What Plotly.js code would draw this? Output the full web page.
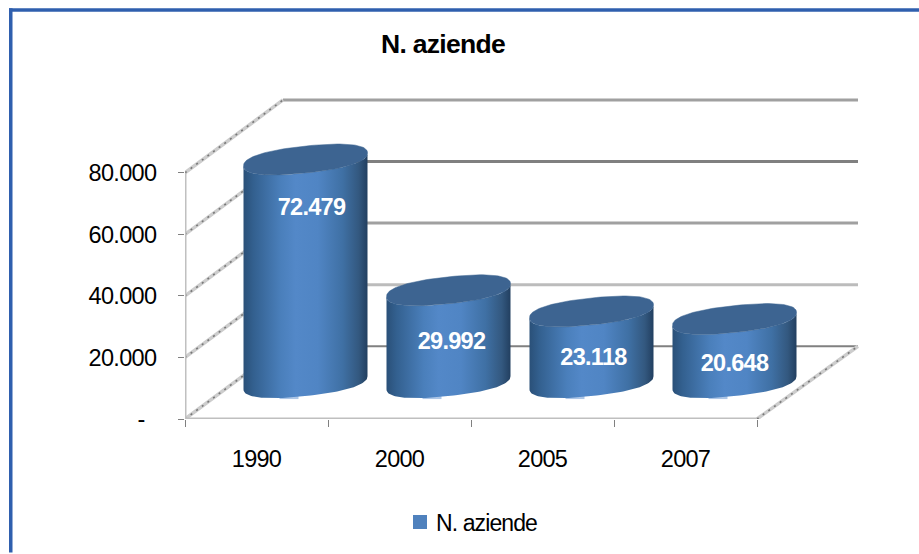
<!DOCTYPE html>
<html><head><meta charset="utf-8">
<script src="https://cdn.plot.ly/plotly-3.0.1.min.js"></script>
<style>html,body{margin:0;padding:0;background:#fff}#chart{width:919px;height:554px}
#chart text{letter-spacing:-0.7px}
#chart .legendtext{letter-spacing:-0.9px;transform:translateX(-4px)}
</style>
</head><body><div id="chart"></div>
<script>
const categories = ['1990','2000','2005','2007'];
const seriesName = 'N. aziende';
const values = [72479, 29992, 23118, 20648];
const valueLabels = ['72.479','29.992','23.118','20.648'];
const yTickVals = [0,20000,40000,60000,80000];
const yTickText = ['-\u00a0\u00a0','20.000','40.000','60.000','80.000'];
const labelShiftX = [6,3,2,0];
const labelShiftY = [50,53,48,46];

const W=919,H=554,L=185,R=865,T=90,B=420;
const pxX=143, pxY=61.75/20000, depthX=98, depthY=73;
const fx=p=>p/pxX, fy=p=>p/pxY;
const FONT='"Liberation Sans",Arial,sans-serif';
const a=fx(62), k=6.5, b=13.5, sq=0.85;
const centers=categories.map((c,i)=>i+0.5+fx(depthX/2));
const floorMid=fy(depthY/2);
const spow=u=>Math.sign(u)*Math.pow(Math.abs(u),sq);
const ell=(i,lvl,t)=>{const c=spow(Math.cos(t)),s=spow(Math.sin(t));return [centers[i]+a*c, lvl+fy(k*c-b*s)];};
const range=(from,to,n)=>Array.from({length:n+1},(_,j)=>from+(to-from)*j/n);

const traces=[];
const sx=[],sy=[];
yTickVals.forEach(v=>{ sx.push(0,fx(depthX),null); sy.push(v,v+fy(depthY),null); });
sx.push(4,4+fx(858-L-572),null); sy.push(0,fy(depthY),null);
const gridColors=['#808080','#bcbcbc','#a0a0a0','#808080','#a0a0a0'];
yTickVals.forEach((v,i)=>traces.push({x:[fx(depthX),fx(858-L)],y:[v+fy(depthY),v+fy(depthY)],mode:'lines',
  line:{color:gridColors[i],width:i===0?2:3},showlegend:false,hoverinfo:'skip',cliponaxis:false}));
traces.push({x:sx,y:sy,mode:'lines',line:{color:'#cdcdcd',width:3.5},showlegend:false,hoverinfo:'skip',cliponaxis:false});
traces.push({x:sx,y:sy,mode:'lines',line:{color:'#777777',width:1.6,dash:'2px 5px'},showlegend:false,hoverinfo:'skip',cliponaxis:false});
traces.push({x:[0,0],y:[0,80000],mode:'lines',line:{color:'#c0c0c0',width:3},showlegend:false,hoverinfo:'skip',cliponaxis:false});

// legend swatch carrier, hidden behind the cylinders
traces.push({x:centers,y:values.map(v=>v/2),mode:'markers',name:seriesName,
  marker:{symbol:'square',size:14,color:'#4f81bd'},hoverinfo:'skip',showlegend:true});

const grad=[[0,'#2a5078'],[0.08,'#33608f'],[0.3,'#4a7fbb'],[0.42,'#5388c8'],[0.6,'#5085c4'],[0.8,'#3f70a4'],[0.93,'#33587f'],[1,'#223f60']];
values.forEach((v,i)=>{
  traces.push({x:[centers[i]-fx(26),centers[i]-fx(7)],y:[floorMid-fy(b+1),floorMid-fy(b+1)],mode:'lines',line:{color:'#adc6e6',width:4},showlegend:false,hoverinfo:'skip'});
  const lower=range(0,Math.PI,60).map(t=>ell(i,floorMid,t));
  const upper=range(Math.PI,0,60).map(t=>ell(i,floorMid+v,t));
  const body=lower.concat(upper);
  traces.push({x:body.map(p=>p[0]),y:body.map(p=>p[1]),mode:'lines',fill:'toself',line:{width:0,color:'rgba(0,0,0,0)'},
    fillgradient:{type:'horizontal',colorscale:grad},showlegend:false,hoverinfo:'skip'});
  const cap=range(0,2*Math.PI,120).map(t=>ell(i,floorMid+v,t));
  traces.push({x:cap.map(p=>p[0]),y:cap.map(p=>p[1]),mode:'lines',fill:'toself',line:{width:0.5,color:'#3d6491'},fillcolor:'#3d6491',showlegend:false,hoverinfo:'skip'});
});
traces.push({x:centers.map((c,i)=>c+fx(labelShiftX[i])),y:values.map((v,i)=>floorMid+v-fy(labelShiftY[i])),
  mode:'text',text:valueLabels,textposition:'middle center',textfont:{family:FONT,size:23.5,color:'#fff',weight:700},showlegend:false,hoverinfo:'skip'});
// category baseline on its own axis, which carries the tick marks
traces.push({x:[0,4],y:[0,0],xaxis:'x2',mode:'lines',line:{color:'#bfbfbf',width:3},showlegend:false,hoverinfo:'skip',cliponaxis:false});

const rect=(x0,y0,x1,y1,c)=>({type:'rect',xref:'paper',yref:'paper',layer:'above',line:{width:0},fillcolor:c,
  x0:(x0-L)/(R-L),x1:(x1-L)/(R-L),y0:(B-y0)/(B-T),y1:(B-y1)/(B-T)});

Plotly.newPlot('chart',traces,{
  width:W,height:H,margin:{l:L,r:W-R,t:T,b:H-B,pad:0},
  paper_bgcolor:'#fff',plot_bgcolor:'rgba(0,0,0,0)',
  font:{family:FONT,color:'#000',size:21},
  title:{text:'<b>'+seriesName+'</b>',x:443/W,xref:'container',xanchor:'center',y:1-44/H,yref:'container',yanchor:'middle',
    font:{family:FONT,size:26.5,color:'#000'}},
  xaxis:{range:[0,(R-L)/pxX],tickvals:categories.map((c,i)=>i+0.5),ticktext:categories,showgrid:false,zeroline:false,showline:false,ticks:'',
    ticklabelstandoff:23,tickfont:{family:FONT,size:23.5,color:'#000'}},
  xaxis2:{overlaying:'x',range:[0,(R-L)/pxX],anchor:'y',tickvals:[0,1,2,3,4],ticks:'outside',ticklen:7,tickwidth:1,tickcolor:'#808080',
    showticklabels:false,showgrid:false,zeroline:false,showline:false},
  yaxis:{range:[0,fy(B-T)],tickvals:yTickVals,ticktext:yTickText,showgrid:false,zeroline:false,showline:false,ticks:'outside',ticklen:6,tickwidth:1,tickcolor:'#808080',
    ticklabelstandoff:17,tickfont:{family:FONT,size:23.5,color:'#000'}},
  legend:{x:(400-L)/(R-L),xanchor:'left',y:(B-522)/(B-T),yanchor:'middle',font:{family:FONT,size:23,color:'#000'},bgcolor:'rgba(0,0,0,0)'},
  shapes:[rect(9,8,W,11.5,'#2f5fae'),rect(9,8,12.5,H,'#2f5fae')],
  showlegend:true
},{displayModeBar:false,staticPlot:true});
</script></body></html>
